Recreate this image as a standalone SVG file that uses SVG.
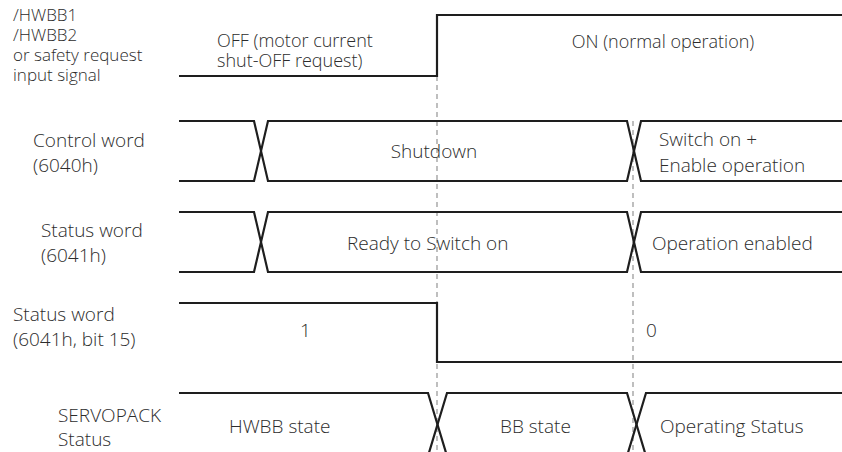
<svg xmlns="http://www.w3.org/2000/svg" width="842" height="452" viewBox="0 0 842 452">
<style>
.t{font-family:"Open Sans","Liberation Sans",Arial,sans-serif;font-weight:300;font-size:19px;fill:#2c2c2c}
.s{font-size:18px}
.l{font-size:17px}
.sig{fill:none;stroke:#1e1e1e;stroke-width:2.2;stroke-linejoin:miter}
.d{fill:none;stroke:#8a8a8a;stroke-width:1.1;stroke-dasharray:5 4}
</style>
<rect width="842" height="452" fill="#fff"/>
<g id="guides">
<line class="d" x1="437" y1="76" x2="437" y2="452"/>
<line class="d" x1="633" y1="121" x2="633" y2="452"/>
</g>
<g id="connectors">
<path class="sig" d="M179,76 H437 V15 H842"/>
<path class="sig" d="M179,121 H254 L268,181 H627 L641,121 H842"/>
<path class="sig" d="M179,181 H254 L268,121 H627 L641,181 H842"/>
<path class="sig" d="M179,212 H254 L268,272 H627 L641,212 H842"/>
<path class="sig" d="M179,272 H254 L268,212 H627 L641,272 H842"/>
<path class="sig" d="M179,303 H437 V362 H842"/>
<path class="sig" d="M179,393 H428 L447,456"/>
<path class="sig" d="M428,456 L447,393 H627 L646,456"/>
<path class="sig" d="M627,456 L646,393 H842"/>
</g>
<g id="hwbb">
<text class="t l" x="13" y="21">/HWBB1</text>
<text class="t l" x="13" y="41">/HWBB2</text>
<text class="t l" x="13" y="61">or safety request</text>
<text class="t l" x="13" y="81">input signal</text>
<text class="t s" x="217" y="47">OFF (motor current</text>
<text class="t s" x="217" y="67">shut-OFF request)</text>
<text class="t s" x="663" y="48" text-anchor="middle">ON (normal operation)</text>
</g>
<g id="control">
<text class="t" x="33" y="147">Control word</text>
<text class="t" x="33" y="172">(6040h)</text>
<text class="t" x="434" y="158" text-anchor="middle">Shutdown</text>
<text class="t" x="659" y="146">Switch on +</text>
<text class="t" x="659" y="172">Enable operation</text>
</g>
<g id="status">
<text class="t" x="41" y="237">Status word</text>
<text class="t" x="41" y="262">(6041h)</text>
<text class="t" x="347" y="250">Ready to Switch on</text>
<text class="t" x="652" y="250">Operation enabled</text>
</g>
<g id="bit15">
<text class="t" x="13" y="321">Status word</text>
<text class="t" x="13" y="346">(6041h, bit 15)</text>
<text class="t" x="300" y="337">1</text>
<text class="t" x="646" y="337">0</text>
</g>
<g id="servopack">
<text class="t" x="58" y="422">SERVOPACK</text>
<text class="t" x="58" y="446">Status</text>
<text class="t" x="229" y="433">HWBB state</text>
<text class="t" x="500" y="433">BB state</text>
<text class="t" x="660" y="433">Operating Status</text>
</g>
</svg>
